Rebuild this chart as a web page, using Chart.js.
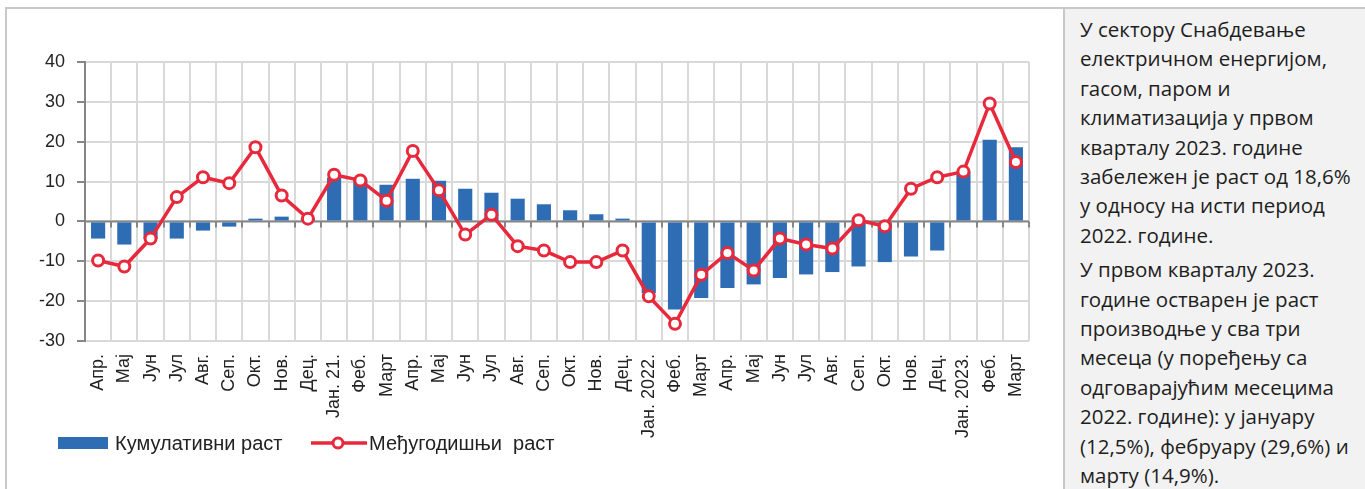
<!DOCTYPE html>
<html>
<head>
<meta charset="utf-8">
<script src="https://cdn.jsdelivr.net/npm/chart.js@4/dist/chart.umd.min.js"></script>
<style>
  body { margin: 0; width: 1365px; height: 489px; background: #fff; overflow: hidden; position: relative; font-family: "Liberation Sans", Arial, sans-serif; }
  #chartBox { position: absolute; left: 5px; top: 7px; width: 1058px; height: 482px; box-sizing: border-box; border-left: 2px solid #c8c8c8; border-top: 2px solid #c8c8c8; }
  #wrap { position: absolute; left: 7px; top: 9px; width: 1056px; height: 480px; }
  #panel { position: absolute; left: 1063px; top: 7px; width: 302px; height: 482px; box-sizing: border-box; background: #f2f2f2; border-left: 2px solid #c8c8c8; border-top: 2px solid #c8c8c8; padding: 6px 0 0 15px; font-family: "Open Sans", "Noto Sans", sans-serif; font-size: 20.5px; line-height: 29.4px; color: #1e1e1e; }
  #panel p { margin: 0 0 5px 0; white-space: nowrap; }
  .leg { position: absolute; font-size: 20px; color: #222; line-height: 20px; }
</style>
</head>
<body>
<div id="chartBox"></div>
<div id="wrap"><canvas id="c" width="1056" height="480"></canvas></div>
<div class="leg" style="left:58px;top:437px;width:50px;height:12px;background:#2E6DB4;"></div>
<div class="leg" style="left:115px;top:433px;">Кумулативни раст</div>
<svg class="leg" style="left:311px;top:433px;" width="56" height="20">
  <line x1="0" y1="10" x2="56" y2="10" stroke="#E8293C" stroke-width="3.5"/>
  <circle cx="27" cy="10" r="5" fill="#fff" stroke="#E8293C" stroke-width="3"/>
</svg>
<div class="leg" style="left:369px;top:433px;">Међугодишњи&nbsp; раст</div>
<div id="panel">
  <p>У сектору Снабдевање<br>електричном енергијом,<br>гасом, паром и<br>климатизација у првом<br>кварталу 2023. године<br>забележен је раст од 18,6%<br>у односу на исти период<br>2022. године.</p>
  <p>У првом кварталу 2023.<br>године остварен је раст<br>производње у сва три<br>месеца (у поређењу са<br>одговарајућим месецима<br>2022. године): у јануару<br>(12,5%), фебруару (29,6%) и<br>марту (14,9%).</p>
</div>
<script>
const labels = ['Апр.', 'Мај', 'Јун', 'Јул', 'Авг.', 'Сеп.', 'Окт.', 'Нов.', 'Дец.',
  'Јан. 21.', 'Феб.', 'Март', 'Апр.', 'Мај', 'Јун', 'Јул', 'Авг.', 'Сеп.', 'Окт.', 'Нов.', 'Дец.',
  'Јан. 2022.', 'Феб.', 'Март', 'Апр.', 'Мај', 'Јун', 'Јул', 'Авг.', 'Сеп.', 'Окт.', 'Нов.', 'Дец.',
  'Јан. 2023.', 'Феб.', 'Март'];
// cumulative growth (bars)
const cumulative = [-4.3, -5.8, -4.4, -4.3, -2.3, -1.3, 0.7, 1.2, 0.8,
  11.0, 10.5, 9.2, 10.7, 10.2, 8.2, 7.2, 5.7, 4.3, 2.8, 1.8, 0.7,
  -18.0, -22.1, -19.2, -16.7, -15.8, -14.2, -13.3, -12.7, -11.3, -10.2, -8.8, -7.3,
  12.5, 20.5, 18.6];
// year-on-year growth (line)
const yearOnYear = [-9.8, -11.3, -4.3, 6.1, 11.1, 9.6, 18.6, 6.5, 0.7,
  11.7, 10.3, 5.2, 17.7, 7.8, -3.3, 1.7, -6.2, -7.3, -10.2, -10.2, -7.3,
  -18.8, -25.7, -13.4, -7.9, -12.3, -4.3, -5.8, -6.8, 0.3, -1.2, 8.2, 11.1,
  12.5, 29.6, 14.9];
const yMin = -30, yMax = 40, yStep = 10;

const AXIS = '#868686';
const GRID = '#d9d9d9';

// Excel-style axis at zero with small tick marks at category boundaries
const zeroAxis = {
  id: 'zeroAxis',
  beforeDatasetsDraw(chart) {
    const { ctx, chartArea, scales } = chart;
    const y0 = scales.y.getPixelForValue(0);
    const n = labels.length;
    const step = (chartArea.right - chartArea.left) / n;
    ctx.save();
    ctx.strokeStyle = AXIS;
    ctx.lineWidth = 2;
    ctx.beginPath();
    for (let i = 0; i <= n; i++) {
      const x = Math.round(chartArea.left + i * step);
      ctx.moveTo(x, y0);
      ctx.lineTo(x, y0 + 6);
    }
    ctx.moveTo(chartArea.left, y0);
    ctx.lineTo(chartArea.right, y0);
    ctx.stroke();
    ctx.restore();
  }
};

new Chart(document.getElementById('c'), {
  data: {
    labels,
    datasets: [
      {
        type: 'line', label: 'Међугодишњи раст', data: yearOnYear, order: 0,
        borderColor: '#E8293C', borderWidth: 3.5, tension: 0,
        pointRadius: 5.5, pointBorderWidth: 3, pointBackgroundColor: '#fff', pointBorderColor: '#E8293C'
      },
      {
        type: 'bar', label: 'Кумулативни раст', data: cumulative, order: 1,
        backgroundColor: '#2E6DB4', categoryPercentage: 1, barPercentage: 0.54
      }
    ]
  },
  options: {
    responsive: false,
    animation: false,
    layout: { padding: { top: 53, right: 34, left: 0, bottom: 0 } },
    plugins: { legend: { display: false }, tooltip: { enabled: false } },
    scales: {
      x: {
        offset: true,
        grid: { offset: true, color: GRID, lineWidth: 2, drawTicks: false },
        border: { display: false },
        ticks: { autoSkip: false, maxRotation: 90, minRotation: 90, padding: 13, color: '#222', font: { family: 'Liberation Sans', size: 18 } },
        afterFit: (s) => { s.height = 148; }
      },
      y: {
        min: yMin, max: yMax,
        ticks: { stepSize: yStep, padding: 12, color: '#222', font: { family: 'Liberation Sans', size: 18 } },
        grid: { color: GRID, lineWidth: 2, tickColor: AXIS, tickLength: 8 },
        border: { color: AXIS, width: 2 },
        afterFit: (s) => { s.width = 78; }
      }
    }
  },
  plugins: [zeroAxis]
});
</script>
</body>
</html>
